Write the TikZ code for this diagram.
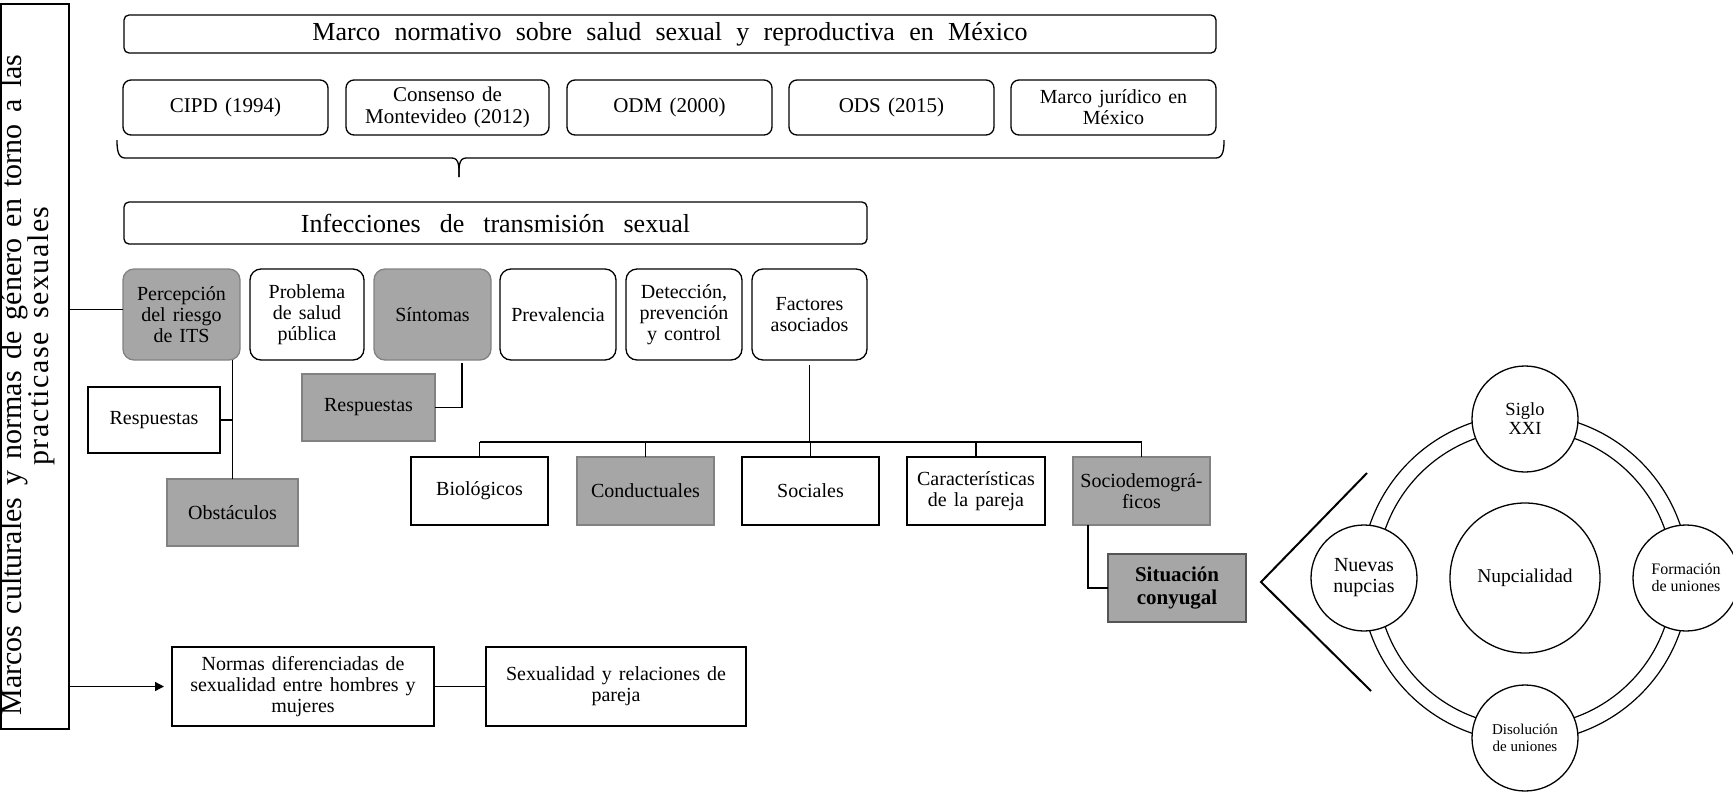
\documentclass[tikz,border=0pt]{standalone}
\usepackage{fontspec}
\setmainfont{Liberation Serif}
\usetikzlibrary{arrows.meta,calc}
\definecolor{fillgray}{RGB}{166,166,166}
\definecolor{edgegray}{RGB}{130,130,130}
\definecolor{darkedge}{RGB}{85,85,85}
\newcommand{\fsz}[2]{\fontsize{#1}{#2}\selectfont}
\begin{document}
\begin{tikzpicture}[x=1pt,y=-1pt,
  every node/.style={inner sep=0pt, outer sep=0pt},
  conn/.style={draw=black, line width=1.4pt},
  box/.style={draw=black, line width=1.3pt, align=center, font=\fsz{20}{21},
    execute at begin node={\spaceskip=.35em\relax}},
  titlebox/.style={box, rounded corners=5pt},
  rowone/.style={box, rounded corners=8pt, font=\fsz{21}{22}},
  rowtwo/.style={box, rounded corners=11pt},
  grayfill/.style={fill=fillgray, draw=edgegray},
  ring/.style={draw=black, line width=1.2pt},
  bubble/.style={circle, draw=black, line width=1.3pt, fill=white, align=center,
    minimum size=106pt},
  sidetext/.style={rotate=90, anchor=base, font=\fsz{30}{30}}
]
\useasboundingbox (0,0) rectangle (1733,793);

% left frame
\node[draw=black, line width=1.3pt, minimum width=68, minimum height=725] (frame) at (35,366.5) {};
\node[sidetext] (lt1) at (21,385) {\spaceskip=.38em\relax Marcos culturales y normas de género en torno a las};
\node[sidetext] (lt2) at (48,336) {\addfontfeature{LetterSpace=5}\spaceskip=.45em\relax practicase sexuales};

% top title
\node[titlebox, minimum width=1092, minimum height=38, font=\fsz{26}{27}] (marco) at (670,34)
  {\spaceskip=.55em\relax Marco normativo sobre salud sexual y reproductiva en México};

% row one
\node[rowone, minimum width=205, minimum height=55] (cipd) at (225.5,107.5) {CIPD (1994)};
\node[rowone, minimum width=203, minimum height=55] (cons) at (447.5,107.5) {Consenso de\\Montevideo (2012)};
\node[rowone, minimum width=205, minimum height=55] (odm) at (669.5,107.5) {ODM (2000)};
\node[rowone, minimum width=205, minimum height=55] (ods) at (891.5,107.5) {ODS (2015)};
\node[rowone, minimum width=205, minimum height=55, font=\fsz{20}{21}] (jur) at (1113.5,107.5) {Marco jurídico en\\México};

% brace
\coordinate (brL) at (117,140);
\coordinate (brR) at (1224,140);
\coordinate (brT) at (459,177);
\draw[line width=1.3pt] (brL) to[out=-90,in=180] (125,158) -- (452,158)
  to[out=0,in=90] (brT);
\draw[line width=1.3pt] (brT) to[out=90,in=180] (466,158) -- (1216,158)
  to[out=0,in=-90] (brR);

% second title
\node[titlebox, minimum width=743, minimum height=42, font=\fsz{26}{27}] (its) at (495.5,223)
  {\spaceskip=.73em\relax Infecciones de transmisión sexual};

% row two
\node[rowtwo, grayfill, minimum width=117, minimum height=91] (perc) at (181.5,314.5) {Percepción\\del riesgo\\de ITS};
\node[rowtwo, minimum width=114, minimum height=91] (prob) at (307,314.5) {Problema\\de salud\\pública};
\node[rowtwo, grayfill, minimum width=117, minimum height=91] (sint) at (432.5,314.5) {Síntomas};
\node[rowtwo, minimum width=116, minimum height=91] (prev) at (558,314.5) {Prevalencia};
\node[rowtwo, minimum width=116, minimum height=91] (det) at (684,314.5) {Detección,\\prevención\\y control};
\node[rowtwo, minimum width=115, minimum height=91] (fac) at (809.5,314.5) {Factores\\asociados};

% sub boxes
\node[box, minimum width=132, minimum height=66] (resp1) at (154,420) {Respuestas};
\node[box, grayfill, minimum width=131, minimum height=67] (obs) at (232.5,512.5) {Obstáculos};
\node[box, grayfill, minimum width=133, minimum height=67] (resp2) at (368.5,407.5) {Respuestas};

% factor boxes
\node[box, minimum width=137, minimum height=68] (bio) at (479.5,491) {Biológicos};
\node[box, grayfill, minimum width=137, minimum height=68] (cond) at (645.5,491) {Conductuales};
\node[box, minimum width=137, minimum height=68] (soc) at (810.5,491) {Sociales};
\node[box, minimum width=138, minimum height=68] (car) at (976,491) {Características\\de la pareja};
\node[box, grayfill, minimum width=137, minimum height=68] (sdem) at (1141.5,491) {Sociodemográ-\\ficos};
\node[box, fill=fillgray, draw=darkedge, line width=1.6pt, minimum width=138, minimum height=68,
  font=\bfseries\fsz{21}{23}] (sit) at (1177,588) {Situación\\conyugal};

% bottom boxes
\node[box, minimum width=262, minimum height=79] (nor) at (303,686.5) {Normas diferenciadas de\\sexualidad entre hombres y\\mujeres};
\node[box, minimum width=260, minimum height=79] (sex) at (616,686.5) {Sexualidad y relaciones de\\pareja};

% connectors
\draw[conn] ([yshift=5pt]perc.west) -- ([yshift=5pt]perc.west -| frame.east);
\draw[conn] (obs.north) -- (obs.north |- perc.south);
\draw[conn] (resp1.east) -- (resp1.east -| obs.north);
\coordinate (s1) at ([xshift=29.5pt,yshift=-3pt]sint.south);
\draw[conn] (s1) |- (resp2.east);
\coordinate (bus) at ([yshift=15pt]soc.north);
\draw[conn] ([yshift=-5pt]fac.south) -- (fac.south |- bus);
\draw[conn] (bio.north |- bus) -- (sdem.north |- bus);
\foreach \n in {bio,cond,soc,car,sdem} \draw[conn] (\n.north) -- (\n.north |- bus);
\draw[conn] ([xshift=-53.5pt]sdem.south) |- (sit.west);
\draw[conn, -{Triangle[length=9pt,width=9pt]}, shorten >=8pt] (nor.west -| frame.east) -- (nor.west);
\draw[conn] (nor.east) -- (sex.west);

% chevron
\coordinate (chT) at (1367,473);
\coordinate (chM) at (1261,582);
\coordinate (chB) at (1371,691);
\draw[line width=2pt] (chT) -- (chM) -- (chB);

% nuptiality cycle
\coordinate (cyc) at (1525,578);
\draw[ring] (cyc) circle[radius=164];
\draw[ring] (cyc) circle[radius=148];
\node[bubble, minimum size=150pt, font=\fsz{19.5}{21}] (nup) at (cyc) {Nupcialidad};
\node[bubble, font=\fsz{18.5}{19}] (siglo) at (1525,419) {Siglo\\XXI};
\node[bubble, font=\fsz{20}{21}] (nuev) at (1364,578) {Nuevas\\nupcias};
\node[bubble, font=\fsz{16}{17}] (form) at (1686,578) {Formación\\de uniones};
\node[bubble, font=\fsz{15}{16.5}] (disol) at (1525,738) {Disolución\\de uniones};
\end{tikzpicture}
\end{document}
